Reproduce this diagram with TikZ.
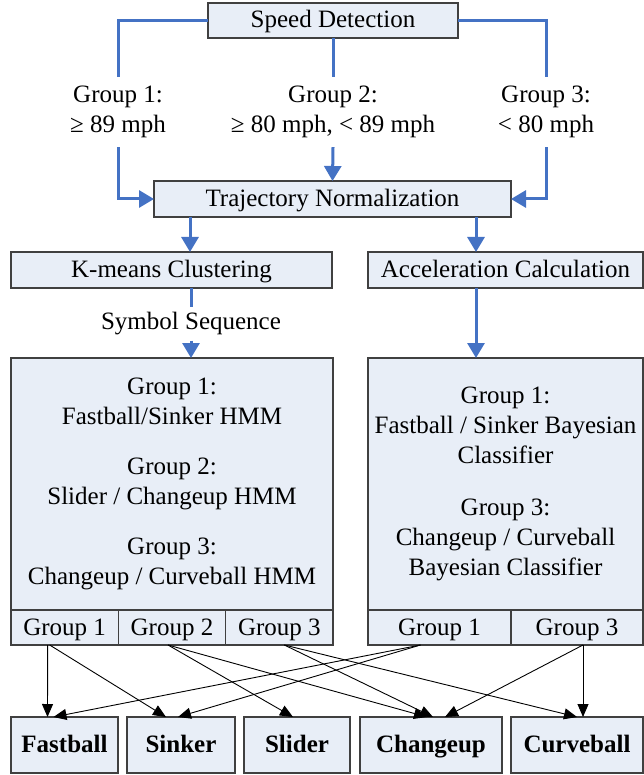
\documentclass[tikz,border=0pt]{standalone}
\usepackage{fontspec}
\setmainfont{Liberation Serif}
\usetikzlibrary{calc,arrows.meta}
\definecolor{boxfill}{RGB}{232,238,247}
\definecolor{boxline}{RGB}{64,64,64}
\definecolor{flowblue}{RGB}{68,114,196}
\tikzset{
	box/.style={draw=boxline, line width=1.2pt, fill=boxfill, inner sep=0pt, outer sep=0pt, align=center},
	onerow/.style={box, text height=20pt, text depth=5pt},
	flow/.style={draw=flowblue, line width=3pt},
	flowarrow/.style={flow, -{Triangle[width=17pt,length=15pt]}},
	pitch/.style={draw=black, line width=0.9pt, -{Triangle[width=11pt,length=13pt]}},
}
\begin{document}
\fontsize{25}{30}\selectfont
\begin{tikzpicture}[x=1pt,y=-1pt]
\useasboundingbox (0,0) rectangle (644,775);

\node[onerow, minimum width=250pt, minimum height=35pt] (speed) at (333,20.5) {Speed Detection};

\node[align=center, inner ysep=9pt] (g1) at (118,112) {Group 1:\\≥ 89 mph};
\node[align=center, inner ysep=9pt] (g2) at (333,112) {Group 2:\\≥ 80 mph, < 89 mph};
\node[align=center, inner ysep=9pt] (g3) at (546,112) {Group 3:\\< 80 mph};

\node[onerow, minimum width=357pt, minimum height=36pt] (traj) at (332.5,199) {Trajectory Normalization};
\node[onerow, minimum width=321pt, minimum height=36pt] (kmeans) at (171.5,270) {K-means Clustering};
\node[onerow, minimum width=275pt, minimum height=36pt] (accel) at (505.5,270) {Acceleration Calculation};

\node[inner ysep=5pt] (symseq) at (191,324) {Symbol Sequence};

\node[box, minimum width=322pt, minimum height=252pt] (hmm) at (172,484)
	{Group 1:\\Fastball/Sinker HMM\\[20pt]Group 2:\\Slider / Changeup HMM\\[20pt]Group 3:\\Changeup / Curveball HMM};
\node[box, minimum width=275pt, minimum height=252pt] (bayes) at (505.5,484)
	{Group 1:\\Fastball / Sinker Bayesian\\Classifier\\[22pt]Group 3:\\Changeup / Curveball\\Bayesian Classifier};

% Gruppen unter den Klassifikatoren
\coordinate (s) at (11,627.5);
\foreach \i in {1,2,3}{
	\node[onerow, minimum width=107.33pt, minimum height=35pt, anchor=west] (h\i) at (s) {Group \i};
	\coordinate (s) at (h\i.east);
}
\node[onerow, minimum width=143pt, minimum height=35pt] (b1) at (439.5,627.5) {Group 1};
\node[onerow, minimum width=132pt, minimum height=35pt] (b3) at (577,627.5) {Group 3};

% Wurfarten
\foreach \name/\cx/\w/\txt in {fast/64.5/107/Fastball, sink/181/108/Sinker, slide/297/106/Slider, change/431/142/Changeup, curve/577/132/Curveball}{
	\node[onerow, font=\bfseries, minimum width=\w pt, minimum height=56pt] (\name) at (\cx,745) {\txt};
}

\draw[flow] (speed.west) -| (g1.north);
\draw[flow] (speed.south) -- (g2.north);
\draw[flow] (speed.east) -| (g3.north);
\draw[flowarrow] (g1.south) |- (traj.west);
\draw[flowarrow] (g2.south) -- (traj.north);
\draw[flowarrow] (g3.south) |- (traj.east);

\coordinate (c1) at (190,0);
\coordinate (c2) at (476,0);
\draw[flowarrow] (traj.south -| c1) -- (kmeans.north -| c1);
\draw[flowarrow] (traj.south -| c2) -- (accel.north -| c2);
\draw[flow] (kmeans.south -| symseq) -- (symseq.north);
\draw[flowarrow] (symseq.south) -- (hmm.north -| symseq);
\draw[flowarrow] (accel.south -| c2) -- (bayes.north -| c2);

\foreach \from/\dx/\to/\tx in {h1/-17/fast/-17, h1/-15/sink/-15, h2/-4/slide/-4, h2/-4/change/-4, h3/5/change/2, h3/5/curve/0, b1/-19/fast/-11, b1/-19/sink/-3, b3/6/change/14, b3/6/curve/6}{
	\draw[pitch] ($(\from.south)+(\dx,0)$) -- ($(\to.north)+(\tx,0)$);
}
\end{tikzpicture}
\end{document}
